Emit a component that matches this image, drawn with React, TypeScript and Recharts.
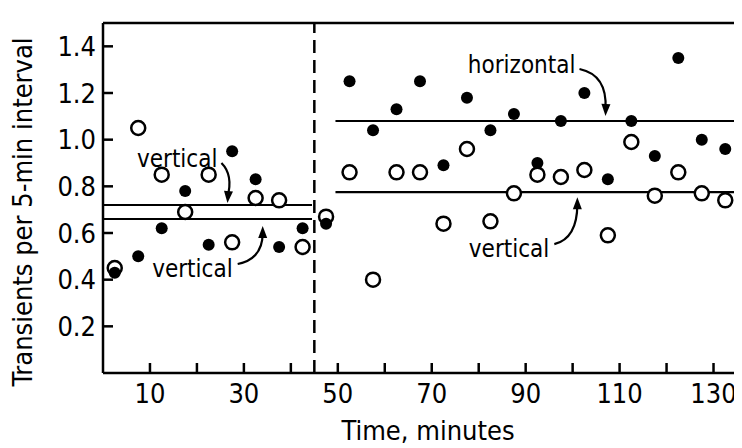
import React from "react";
import { ScatterChart, Scatter, XAxis, YAxis, ReferenceLine, ReferenceDot } from "recharts";

const times = [2.5, 7.5, 12.5, 17.5, 22.5, 27.5, 32.5, 37.5, 42.5, 47.5, 52.5, 57.5, 62.5, 67.5, 72.5, 77.5, 82.5, 87.5, 92.5, 97.5, 102.5, 107.5, 112.5, 117.5, 122.5, 127.5, 132.5];
const horizontalValues = [0.43, 0.5, 0.62, 0.78, 0.55, 0.95, 0.83, 0.54, 0.62, 0.64, 1.25, 1.04, 1.13, 1.25, 0.89, 1.18, 1.04, 1.11, 0.9, 1.08, 1.2, 0.83, 1.08, 0.93, 1.35, 1.0, 0.96];
const verticalValues = [0.45, 1.05, 0.85, 0.69, 0.85, 0.56, 0.75, 0.74, 0.54, 0.67, 0.86, 0.4, 0.86, 0.86, 0.64, 0.96, 0.65, 0.77, 0.85, 0.84, 0.87, 0.59, 0.99, 0.76, 0.86, 0.77, 0.74];
const xTicks = [10, 20, 30, 40, 50, 60, 70, 80, 90, 100, 110, 120, 130];
const xTickLabels = [10, 30, 50, 70, 90, 110, 130];
const yTicks = [0.2, 0.4, 0.6, 0.8, 1.0, 1.2, 1.4];
const switchTime = 45;
const leftMeans = [0.72, 0.66];
const rightHorizontalMean = 1.08;
const rightVerticalMean = 0.775;
const xDomain = [0, 135];
const yDomain = [0, 1.5];

const filledData = times.map((t, i) => ({ t, v: horizontalValues[i] }));
const openData = times.map((t, i) => ({ t, v: verticalValues[i] }));

const FONT = "'Liberation Sans Narrow', 'DejaVu Sans Condensed', 'Liberation Sans', sans-serif";

const FilledDot = (p: any) => <circle cx={p.cx} cy={p.cy} r={6} fill="#000" />;
const OpenDot = (p: any) => <circle cx={p.cx} cy={p.cy} r={7} fill="#fff" stroke="#000" strokeWidth={2.5} />;

const YTick = (p: any) => (
  <g>
    <line x1={p.x} y1={p.y} x2={p.x + 10} y2={p.y} stroke="#000" strokeWidth={2.5} />
    <text x={p.x - 7} y={p.y} dy="0.36em" textAnchor="end" fontFamily={FONT} fontSize={27} fill="#000">
      {Number(p.payload.value).toFixed(1)}
    </text>
  </g>
);

const XTick = (p: any) => (
  <g>
    <line x1={p.x} y1={p.y} x2={p.x} y2={p.y - 10} stroke="#000" strokeWidth={2.5} />
    {xTickLabels.includes(p.payload.value) ? (
      <text x={p.x} y={p.y + 30} textAnchor="middle" fontFamily={FONT} fontSize={27} fill="#000">
        {p.payload.value}
      </text>
    ) : null}
  </g>
);

const arrowHead = (tx: number, ty: number, angle: number) => {
  const a = (angle * Math.PI) / 180;
  const len = 12;
  const w = 4.5;
  const bx = tx - len * Math.cos(a);
  const by = ty - len * Math.sin(a);
  const px = -Math.sin(a) * w;
  const py = Math.cos(a) * w;
  return `M${tx},${ty} L${bx + px},${by + py} L${bx - px},${by - py} Z`;
};

const makeAnnotation = (label: string, textDx: number, textDy: number, path: string, tip: [number, number], angle: number) => (p: any) => {
  const cx = p.cx;
  const cy = p.cy;
  return (
    <g transform={`translate(${cx},${cy})`}>
      <text x={textDx} y={textDy} textAnchor="end" fontFamily={FONT} fontSize={24} fill="#000">{label}</text>
      <path d={path} fill="none" stroke="#000" strokeWidth={2.2} />
      <path d={arrowHead(tip[0], tip[1], angle)} fill="#000" />
    </g>
  );
};

const Ann1 = makeAnnotation("vertical", -10, -38, "M-6,-42 Q6,-30 0,-8", [0, -2], 95);
const Ann2 = makeAnnotation("vertical", -30, 58, "M-25,45 Q0,40 0,14", [0, 7], -90);
const Ann3 = makeAnnotation("horizontal", -30, -48, "M-26,-52 Q2,-46 0,-12", [0, -5], 92);
const Ann4 = makeAnnotation("vertical", -28, 65, "M-23,52 Q0,46 0,12", [0, 5], -90);

export default function App() {
  return (
    <ScatterChart width={734} height={440} margin={{ top: 15, right: 5, left: 0, bottom: 0 }}>
      <XAxis
        type="number"
        dataKey="t"
        domain={xDomain}
        ticks={xTicks}
        allowDataOverflow
        tickSize={0}
        tickMargin={0}
        tick={<XTick />}
        height={75}
        axisLine={{ stroke: "#000", strokeWidth: 2.5 }}
        label={{
          content: (props: any) => {
            const vb = props.viewBox;
            return (
              <text x={vb.x + vb.width / 2 + 8} y={vb.y + 67} textAnchor="middle" fontFamily={FONT} fontSize={27} fill="#000">
                Time, minutes
              </text>
            );
          },
        }}
      />
      <YAxis
        type="number"
        dataKey="v"
        domain={yDomain}
        ticks={yTicks}
        allowDataOverflow
        tickSize={0}
        tickMargin={0}
        tick={<YTick />}
        width={95}
        axisLine={{ stroke: "#000", strokeWidth: 2.5 }}
        label={{
          content: (props: any) => {
            const vb = props.viewBox;
            const x = 15;
            const y = vb.y + vb.height / 2 + 14;
            return (
              <text x={x} y={y} transform={`rotate(-90,${x},${y})`} dy="0.34em" textAnchor="middle" fontFamily={FONT} fontSize={27} fill="#000">
                Transients per 5-min interval
              </text>
            );
          },
        }}
      />
      <ReferenceLine y={yDomain[1]} stroke="#000" strokeWidth={2.5} />
      <ReferenceLine x={xDomain[1]} stroke="#000" strokeWidth={2.5} />
      <ReferenceLine x={switchTime} stroke="#000" strokeWidth={2.5} strokeDasharray="13 7" />
      <ReferenceLine segment={[{ x: 0, y: leftMeans[0] }, { x: 44.5, y: leftMeans[0] }]} stroke="#000" strokeWidth={2.2} />
      <ReferenceLine segment={[{ x: 0, y: leftMeans[1] }, { x: 44.5, y: leftMeans[1] }]} stroke="#000" strokeWidth={2.2} />
      <ReferenceLine segment={[{ x: 49.5, y: rightHorizontalMean }, { x: 135, y: rightHorizontalMean }]} stroke="#000" strokeWidth={2.2} />
      <ReferenceLine segment={[{ x: 49.5, y: rightVerticalMean }, { x: 135, y: rightVerticalMean }]} stroke="#000" strokeWidth={2.2} />
      <Scatter data={openData} shape={<OpenDot />} isAnimationActive={false} />
      <Scatter data={filledData} shape={<FilledDot />} isAnimationActive={false} />
      <ReferenceDot x={26.5} y={leftMeans[0]} shape={Ann1} />
      <ReferenceDot x={34} y={leftMeans[1]} shape={Ann2} />
      <ReferenceDot x={107} y={rightHorizontalMean} shape={Ann3} />
      <ReferenceDot x={101} y={rightVerticalMean} shape={Ann4} />
    </ScatterChart>
  );
}
